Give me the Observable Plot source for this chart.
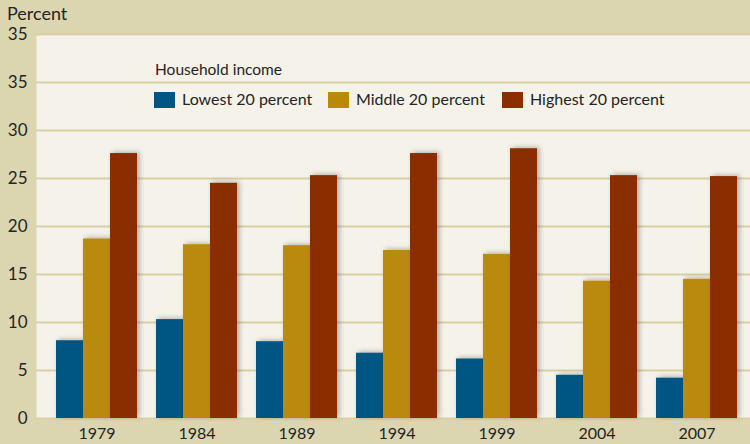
<!DOCTYPE html>
<html>
<head>
<meta charset="utf-8">
<script src="https://cdn.jsdelivr.net/npm/d3@7"></script>
<script src="https://cdn.jsdelivr.net/npm/@observablehq/plot@0.6"></script>
<style>
  html, body { margin: 0; padding: 0; background: #dcd6b0; }
  #wrap { position: relative; width: 750px; height: 444px; background: #dcd6b0; font-family: Lato, "Open Sans", sans-serif; color: #242424; overflow: hidden; }
  #wrap svg { position: absolute; left: 0; top: 0; }
  .ov { position: absolute; line-height: 1; white-space: nowrap; }
  .sw { position: absolute; width: 21px; height: 16px; }
</style>
</head>
<body>
<div id="wrap"></div>
<script>
const years = ["1979", "1984", "1989", "1994", "1999", "2004", "2007"];
const lowest = [8.1, 10.3, 8.0, 6.8, 6.2, 4.5, 4.2];
const middle = [18.7, 18.1, 18.0, 17.5, 17.1, 14.3, 14.5];
const highest = [27.6, 24.5, 25.3, 27.6, 28.1, 25.3, 25.2];
const seriesNames = ["Lowest 20 percent", "Middle 20 percent", "Highest 20 percent"];
const seriesColors = ["#005682", "#b98a08", "#8a2e00"];
const legendTitle = "Household income";
const yTitle = "Percent";
const yTicks = [0, 5, 10, 15, 20, 25, 30, 35, 40];
const yTickLabels = ["0", "5", "10", "15", "20", "25", "30", "35", "35"];

const seriesValues = [lowest, middle, highest];

const chart = Plot.plot({
  width: 750,
  height: 444,
  marginLeft: 36,
  marginRight: 0,
  marginTop: 34,
  marginBottom: 26,
  style: { background: "transparent", fontFamily: "Lato, 'Open Sans', sans-serif", color: "#242424", overflow: "hidden" },
  x: { type: "band", domain: years, range: [36, 757], paddingInner: 0.19, paddingOuter: 0.2, round: true, axis: null },
  y: { domain: [0, 40], axis: null },
  marks: [
    Plot.frame({ fill: "#f5f2e9", stroke: null }),
    Plot.ruleY(yTicks, { stroke: "#d8d1a6", strokeWidth: 2 }),
    Plot.barY(years, { x: d => d, y: (d, i) => seriesValues[0][i], fill: seriesColors[0], insetLeft: 0, insetRight: 54 }),
    Plot.barY(years, { x: d => d, y: (d, i) => seriesValues[1][i], fill: seriesColors[1], insetLeft: 27, insetRight: 27 }),
    Plot.barY(years, { x: d => d, y: (d, i) => seriesValues[2][i], fill: seriesColors[2], insetLeft: 54, insetRight: 0 }),
    Plot.axisY(yTicks, { tickSize: 0, tickPadding: 9, fontSize: 17, label: null, tickFormat: d => yTickLabels[yTicks.indexOf(d)] }),
    Plot.axisX({ tickSize: 0, tickPadding: 9, fontSize: 16, label: null })
  ]
});

// drop shadow on bars
const svg = d3.select(chart);
const defs = svg.insert("defs", ":first-child");
const f = defs.append("filter").attr("id", "barshadow").attr("x", "-20%").attr("y", "-20%").attr("width", "160%").attr("height", "140%");
f.append("feDropShadow").attr("dx", 2.5).attr("dy", -1).attr("stdDeviation", 2.5).attr("flood-color", "#000").attr("flood-opacity", 0.28);
svg.selectAll("g[aria-label='bar']").attr("filter", "url(#barshadow)");

const wrap = document.getElementById("wrap");
wrap.appendChild(chart);

function addText(txt, left, top, size) {
  const d = document.createElement("div");
  d.className = "ov";
  d.textContent = txt;
  d.style.left = left + "px";
  d.style.top = top + "px";
  d.style.fontSize = size + "px";
  wrap.appendChild(d);
}
addText(yTitle, 7, 4, 18);
addText(legendTitle, 155, 62, 15.5);
const swX = [154, 328, 502];
seriesNames.forEach((name, i) => {
  const s = document.createElement("div");
  s.className = "sw";
  s.style.left = swX[i] + "px";
  s.style.top = "92px";
  s.style.background = seriesColors[i];
  wrap.appendChild(s);
  addText(name, swX[i] + 28, 91, 16);
});
</script>
</body>
</html>
